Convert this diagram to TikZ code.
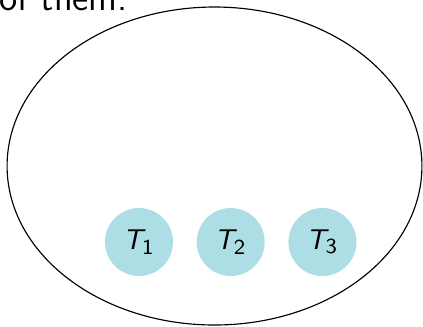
\documentclass[tikz,border=0pt]{standalone}
\usepackage{tikz}
\usepackage{xcolor}
\usetikzlibrary{positioning,shapes.geometric}
\definecolor{tblue}{HTML}{ADDEE6}
\newcommand{\tname}[1]{\textit{T}\kern-1.2pt\textsubscript{\fontsize{7.5}{8}\selectfont#1}}

\begin{document}
\begin{tikzpicture}[x=0.35pt,y=-0.35pt,
		task/.style={circle,fill=tblue,minimum size=23.8pt,inner sep=0pt,font=\sffamily\fontsize{10}{12}\selectfont}]
		\useasboundingbox (0,0) rectangle (423,326);
		
		\node[anchor=base west,inner sep=0pt,font=\sffamily\fontsize{13}{15}\selectfont] (txt) at (-1,10) {of them.};
		
		\node[draw,ellipse,line width=0.4pt,minimum width=145.2pt,minimum height=111.3pt,inner sep=0pt] (set) at (214.5,166) {};
		
		\node[task] (t1) at (139,242) {\tname{1}};
		\node[task,right=7.9pt of t1] (t2) {\tname{2}};
		\node[task,right=7.9pt of t2] (t3) {\tname{3}};
	\end{tikzpicture}
\end{document}
